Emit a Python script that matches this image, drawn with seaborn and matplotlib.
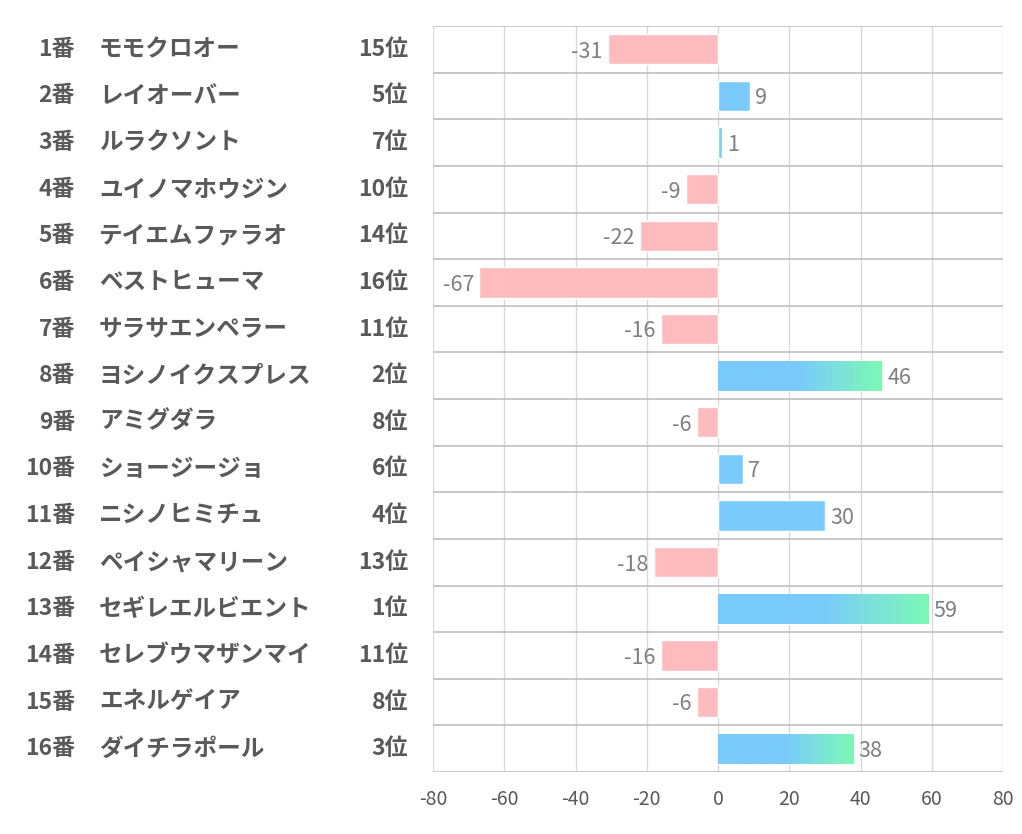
import numpy as np
import pandas as pd
import matplotlib
matplotlib.use("Agg")
import matplotlib.pyplot as plt
import matplotlib.transforms as mtransforms
from matplotlib.colors import LinearSegmentedColormap
import seaborn as sns

# data
horse_nums = ["1番", "2番", "3番", "4番", "5番", "6番", "7番", "8番",
              "9番", "10番", "11番", "12番", "13番", "14番", "15番", "16番"]
horse_names = ["モモクロオー", "レイオーバー", "ルラクソント", "ユイノマホウジン",
               "テイエムファラオ", "ベストヒューマ", "サラサエンペラー", "ヨシノイクスプレス",
               "アミグダラ", "ショージージョ", "ニシノヒミチュ", "ペイシャマリーン",
               "セギレエルビエント", "セレブウマザンマイ", "エネルゲイア", "ダイチラポール"]
ranks = ["15位", "5位", "7位", "10位", "14位", "16位", "11位", "2位",
         "8位", "6位", "4位", "13位", "1位", "11位", "8位", "3位"]
scores = [-31, 9, 1, -9, -22, -67, -16, 46, -6, 7, 30, -18, 59, -16, -6, 38]
top_ranks = ["1位", "2位", "3位"]

BLUE = "#7ACBFB"
GREEN = "#7DF9B5"
PINK = "#FFBBBE"
TEXT = "#595959"
VAL = "#7F7F7F"

sns.set_theme(style="white")
plt.rcParams['font.family'] = ['Noto Sans CJK JP', 'DejaVu Sans']
plt.rcParams['axes.unicode_minus'] = False

df = pd.DataFrame({"num": horse_nums, "name": horse_names, "rank": ranks, "score": scores})
df["sign"] = np.where(df["score"] >= 0, "pos", "neg")

fig = plt.figure(figsize=(10.22, 8.34), dpi=100)
ax = fig.add_axes([433 / 1022, 1 - 772 / 834, 570 / 1022, 746 / 834])

sns.barplot(data=df, x="score", y="num", hue="sign", palette={"pos": BLUE, "neg": PINK},
            orient="h", dodge=False, width=0.65, legend=False, ax=ax, saturation=1)

ax.set_xlim(-80, 80)
ax.set_ylim(len(df) - 0.5, -0.5)
ax.set_xticks(range(-80, 81, 20))
ax.grid(axis="x", color="#D9D9D9", linewidth=1)
ax.set_axisbelow(True)
for s in ax.spines.values():
    s.set_visible(False)
for yb in np.arange(-0.5, len(df), 1.0):
    ax.axhline(yb, color="#BFBFBF", linewidth=1.2, zorder=1)
ax.set_yticks([])
ax.set_ylabel("")
ax.set_xlabel("")
ax.tick_params(axis="x", length=0, pad=12, labelsize=14, labelcolor=TEXT)

# gradient for top 3
cmap = LinearSegmentedColormap.from_list("bg", [(0, BLUE), (0.5, BLUE), (1, GREEN)])
grad = np.linspace(0, 1, 256).reshape(1, -1)
for p in list(ax.patches):
    row = int(round(p.get_y() + p.get_height() / 2))
    if df["rank"][row] in top_ranks:
        x0, w = p.get_x(), p.get_width()
        y0, h = p.get_y(), p.get_height()
        im = ax.imshow(grad, cmap=cmap, aspect="auto", extent=[x0, x0 + w, y0 + h, y0], zorder=3)
        im.set_clip_path(p)
ax.set_xlim(-80, 80)
ax.set_ylim(len(df) - 0.5, -0.5)

# value labels
for i, v in enumerate(df["score"]):
    if v >= 0:
        ax.text(v + 1.5, i + 0.05, str(v), ha="left", va="center", fontsize=15.5, color=VAL)
    else:
        ax.text(v - 1.5, i + 0.05, str(v), ha="right", va="center", fontsize=15.5, color=VAL)

# left label columns
tr = mtransforms.blended_transform_factory(fig.transFigure, ax.transData)
for i in range(len(df)):
    ax.text(75 / 1022, i, df["num"][i], transform=tr, ha="right", va="center",
            fontsize=16.5, fontweight="bold", color=TEXT)
    ax.text(99 / 1022, i, df["name"][i], transform=tr, ha="left", va="center",
            fontsize=17, fontweight="bold", color=TEXT)
    ax.text(408 / 1022, i, df["rank"][i], transform=tr, ha="right", va="center",
            fontsize=16.5, fontweight="bold", color=TEXT)

fig.savefig("out.png", dpi=100)
